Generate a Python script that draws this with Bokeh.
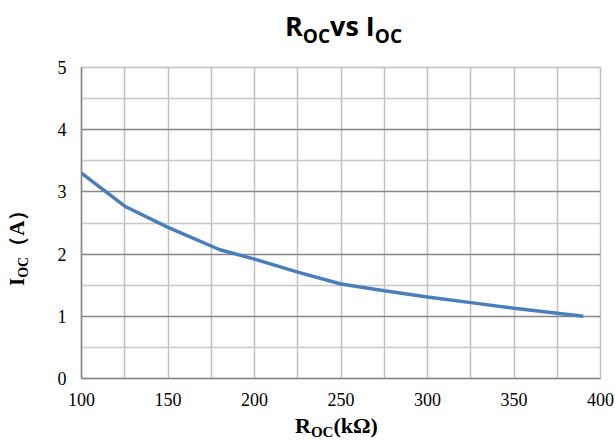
from bokeh.plotting import figure
from bokeh.models import FixedTicker, Range1d, Div
from bokeh.layouts import column, row
from bokeh.embed import file_html
from bokeh.resources import INLINE

# data
r_oc = [100, 125, 150, 180, 200, 225, 250, 275, 300, 325, 350, 375, 390]
i_oc = [3.30, 2.77, 2.43, 2.07, 1.92, 1.71, 1.52, 1.41, 1.31, 1.22, 1.13, 1.05, 1.00]
x_ticks = [100, 150, 200, 250, 300, 350, 400]
y_ticks = [0, 1, 2, 3, 4, 5]
x_grid = [100, 125, 150, 175, 200, 225, 250, 275, 300, 325, 350, 375, 400]
y_minor = [0.5, 1.5, 2.5, 3.5, 4.5]

W, H = 615, 441
TITLE_H, XLAB_H, YLAB_W = 52, 28, 40
FIG_W, FIG_H = W - YLAB_W, H - TITLE_H - XLAB_H

p = figure(width=FIG_W, height=FIG_H, output_backend="svg", toolbar_location=None,
           x_range=Range1d(100, 400), y_range=Range1d(0, 5),
           min_border_left=41, min_border_right=15, min_border_top=15, min_border_bottom=35)
p.outline_line_color = "#bfbfbf"
p.outline_line_width = 1.5

p.xaxis.ticker = FixedTicker(ticks=x_ticks)
p.yaxis.ticker = FixedTicker(ticks=y_ticks)
for ax in (p.xaxis[0], p.yaxis[0]):
    ax.major_tick_line_color = None
    ax.minor_tick_line_color = None
    ax.major_tick_out = 0
    ax.major_tick_in = 0
    ax.minor_tick_out = 0
    ax.minor_tick_in = 0
    ax.axis_line_color = "#868686"
    ax.axis_line_width = 1.5
    ax.major_label_text_font = "Liberation Serif"
    ax.major_label_text_font_size = "18px"
    ax.major_label_text_color = "#000000"
p.xaxis.major_label_standoff = 14
p.yaxis.major_label_standoff = 15

p.xgrid.ticker = FixedTicker(ticks=x_grid)
p.xgrid.grid_line_color = "#c0c0c0"
p.xgrid.grid_line_width = 1.5
p.ygrid.ticker = FixedTicker(ticks=y_ticks, minor_ticks=y_minor)
p.ygrid.grid_line_color = "#868686"
p.ygrid.grid_line_width = 1.5
p.ygrid.minor_grid_line_color = "#c8c8c8"
p.ygrid.minor_grid_line_width = 1.5

p.line(r_oc, i_oc, line_color="#4a7ebb", line_width=3.5)

sub = "position:relative; top:{top}px; font-size:{size}px;"

title_html = (
    '<div style="position:relative; left:285px; top:12px; white-space:nowrap; '
    "font-family:'Open Sans'; font-weight:bold; font-size:27px; line-height:27px; color:#000;\">"
    'R<span style="' + sub.format(top=7, size=19) + '">OC</span>vs I'
    '<span style="' + sub.format(top=7, size=19) + '">OC</span></div>'
)
ylab_html = (
    '<div style="position:relative; left:7px; top:234px; transform-origin:0 0; '
    'transform:rotate(-90deg); white-space:nowrap; '
    "font-family:'Liberation Serif'; font-weight:bold; font-size:21px; line-height:21px; color:#000;\">"
    'I<span style="' + sub.format(top=4, size=14) + '">OC</span>（A）</div>'
)
xlab_html = (
    '<div style="position:relative; left:295px; top:2px; white-space:nowrap; '
    "font-family:'Liberation Serif'; font-weight:bold; font-size:22px; line-height:22px; color:#000;\">"
    'R<span style="' + sub.format(top=4, size=15) + '">OC</span>(kΩ)</div>'
)

div_style = {"overflow": "visible"}
title_div = Div(text=title_html, width=W, height=TITLE_H, margin=0, styles=div_style)
ylab_div = Div(text=ylab_html, width=YLAB_W, height=FIG_H, margin=0, styles=div_style)
xlab_div = Div(text=xlab_html, width=W, height=XLAB_H, margin=0, styles=div_style)

layout = column(title_div, row(ylab_div, p, spacing=0), xlab_div, spacing=0)

open("out.html", "w").write(file_html(layout, INLINE))
